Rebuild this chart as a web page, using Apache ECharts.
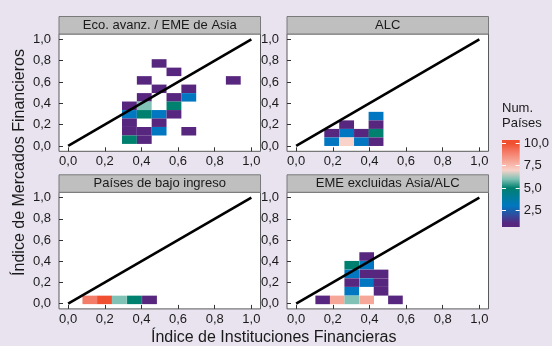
<!DOCTYPE html>
<html><head><meta charset="utf-8">
<script src="https://cdn.jsdelivr.net/npm/echarts@6/dist/echarts.min.js"></script>
<style>html,body{margin:0;padding:0;background:#E8E3EF;} #c{width:552px;height:346px;}</style>
</head><body><div id="c"></div>
<script>
// ---------- data ----------
const panelTitles = ['Eco. avanz. / EME de Asia', 'ALC', 'Países de bajo ingreso', 'EME excluidas Asia/ALC'];
const xTickValues = [0, 0.2, 0.4, 0.6, 0.8, 1.0];
const yTickValues = [0, 0.2, 0.4, 0.6, 0.8, 1.0];
const countTickValues = [2.5, 5, 7.5, 10];
const xTitle = 'Índice de Instituciones Financieras';
const yTitle = 'Índice de Mercados Financieros';
const legendTitle = 'Num.\nPaíses';
// bin sizes per panel [width, height] (index units)
const binSizes = [[0.081, 0.0795], [0.081, 0.08], [0.081, 0.08], [0.08, 0.081]];
// tiles: [x centre, y centre, number of countries]
const tilesAvanz = [
  [0.4965, 0.774, 1],
  [0.5775, 0.695, 1],
  [0.4155, 0.615, 1], [0.9015, 0.615, 1],
  [0.4965, 0.536, 1], [0.6585, 0.536, 1],
  [0.4155, 0.456, 1], [0.5775, 0.456, 1], [0.6585, 0.456, 3],
  [0.3345, 0.377, 1], [0.4155, 0.377, 6], [0.5775, 0.377, 5],
  [0.3345, 0.297, 3], [0.4155, 0.297, 5], [0.4965, 0.297, 3], [0.5775, 0.297, 1],
  [0.3345, 0.218, 1], [0.4965, 0.218, 1],
  [0.3345, 0.138, 1], [0.4155, 0.138, 1], [0.4965, 0.138, 3], [0.6585, 0.138, 1],
  [0.3345, 0.059, 5], [0.4155, 0.059, 1]
];
const tilesALC = [
  [0.436, 0.28, 3],
  [0.2755, 0.20, 1], [0.436, 0.20, 1],
  [0.194, 0.12, 1], [0.2755, 0.12, 3], [0.3565, 0.12, 1], [0.436, 0.12, 5],
  [0.194, 0.04, 3], [0.2755, 0.04, 7], [0.3565, 0.04, 3], [0.436, 0.04, 1]
];
const tilesBajo = [
  [0.1185, 0.035, 9], [0.1985, 0.035, 10], [0.28, 0.035, 6], [0.362, 0.035, 5], [0.444, 0.035, 1]
];
const tilesEME = [
  [0.385, 0.444, 1],
  [0.3035, 0.362, 5], [0.385, 0.362, 3],
  [0.3035, 0.28, 3], [0.385, 0.28, 1], [0.4635, 0.28, 1],
  [0.3035, 0.198, 1], [0.385, 0.198, 3], [0.4635, 0.198, 1],
  [0.3035, 0.116, 3], [0.4635, 0.116, 1],
  [0.145, 0.035, 1], [0.224, 0.035, 8], [0.3035, 0.035, 6], [0.385, 0.035, 8], [0.542, 0.035, 1]
];
const diagonal = [[0, 0], [1, 1]];
// colour for counts 1..10
const countColors = ['#57267E', '#2D4E9F', '#0077C0', '#007C98', '#00806E',
                     '#80C2B5', '#F9D2C9', '#F7A797', '#F47D69', '#F0502F'];
const countMin = 1, countMax = 10;
const barRange = [0.6, 10.4];

// ---------- chart ----------
const FONT = 'Liberation Sans';
const TXT = '#1A1A1A';
const fmt = v => (+v).toFixed(1).replace('.', ',');
const chart = echarts.init(document.getElementById('c'), null, {renderer: 'canvas'});

const panels = [
  {left: 59, top: 34, w: 201.5, h: 117.3},
  {left: 287, top: 34, w: 201.5, h: 117.3},
  {left: 59, top: 192.3, w: 201.5, h: 116.6},
  {left: 287, top: 192.3, w: 201.5, h: 116.6}
];
const tileSets = [tilesAvanz, tilesALC, tilesBajo, tilesEME];

const grids = panels.map(p => ({left: p.left, top: p.top, width: p.w, height: p.h,
  show: true, backgroundColor: '#FFFFFF', borderColor: '#595959', borderWidth: 1}));
grids.push({left: 502, top: 140, width: 19, height: 87, show: false});

const xAxes = panels.map((p, i) => ({type: 'value', gridIndex: i, min: -0.05, max: 1.05,
  splitLine: {show: false}, axisLine: {show: false, onZero: false},
  axisTick: {show: true, inside: true, length: 4, lineStyle: {color: '#333'}, customValues: xTickValues},
  axisLabel: {customValues: xTickValues, formatter: fmt, color: TXT, fontFamily: FONT, fontSize: 13, margin: 4}
}));
xAxes.push({type: 'value', gridIndex: 4, min: 0, max: 1, show: false});

const yAxes = panels.map((p, i) => ({type: 'value', gridIndex: i, min: -0.05, max: 1.05,
  splitLine: {show: false}, axisLine: {show: false, onZero: false},
  axisTick: {show: true, inside: true, length: 4, lineStyle: {color: '#333'}, customValues: yTickValues},
  axisLabel: {customValues: yTickValues, formatter: fmt, color: TXT, fontFamily: FONT, fontSize: 13, margin: 8}
}));
yAxes.push({type: 'value', gridIndex: 4, min: barRange[0], max: barRange[1], position: 'left', z: 10,
  splitLine: {show: false}, axisLine: {show: false, onZero: false}, axisLabel: {show: false},
  axisTick: {show: true, inside: true, length: 4, lineStyle: {color: '#FFFFFF', width: 1}, customValues: countTickValues}});
yAxes.push({type: 'value', gridIndex: 4, min: barRange[0], max: barRange[1], position: 'right', z: 10,
  splitLine: {show: false}, axisLine: {show: false, onZero: false},
  axisTick: {show: true, inside: true, length: 4, lineStyle: {color: '#FFFFFF', width: 1}, customValues: countTickValues},
  axisLabel: {customValues: countTickValues, formatter: fmt, color: TXT, fontFamily: FONT, fontSize: 13, margin: 4}});

const series = [];
tileSets.forEach((data, i) => {
  const bw = binSizes[i][0], bh = binSizes[i][1];
  series.push({type: 'custom', xAxisIndex: i, yAxisIndex: i, data: data, z: 2,
    encode: {x: 0, y: 1},
    renderItem: (params, api) => {
      const x = api.value(0), y = api.value(1);
      const p0 = api.coord([x - bw / 2, y + bh / 2]);
      const p1 = api.coord([x + bw / 2, y - bh / 2]);
      return {type: 'rect', shape: {x: p0[0], y: p0[1], width: p1[0] - p0[0], height: p1[1] - p0[1]},
        style: {fill: api.visual('color')}};
    }});
});
tileSets.forEach((d, i) => {
  series.push({type: 'line', xAxisIndex: i, yAxisIndex: i, data: diagonal, symbol: 'none', z: 5,
    lineStyle: {color: '#000000', width: 2.6}, silent: true});
});
// colour bar
const stops = countColors.map((c, i) => ({offset: (barRange[1] - (countMin + i)) / (barRange[1] - barRange[0]), color: c})).reverse();
stops.unshift({offset: 0, color: countColors[countColors.length - 1]});
stops.push({offset: 1, color: countColors[0]});
series.push({type: 'custom', xAxisIndex: 4, yAxisIndex: 4, data: [[0.5, 5]], z: 1, silent: true,
  renderItem: (params, api) => {
    const p0 = api.coord([0, barRange[1]]);
    const p1 = api.coord([1, barRange[0]]);
    return {type: 'rect', shape: {x: p0[0], y: p0[1], width: p1[0] - p0[0], height: p1[1] - p0[1]},
      style: {fill: new echarts.graphic.LinearGradient(0, 0, 0, 1, stops)}};
  }});

const graphics = [];
panels.forEach((p, i) => {
  graphics.push({type: 'rect', shape: {x: p.left, y: p.top - 17.5, width: p.w, height: 17.5},
    style: {fill: '#BFBFBF', stroke: '#7A7A7A', lineWidth: 1}});
  graphics.push({type: 'text', x: p.left + p.w / 2, y: p.top - 8.5,
    style: {text: panelTitles[i], fill: TXT, font: '13px "' + FONT + '"', textAlign: 'center', textVerticalAlign: 'middle'}});
});
graphics.push({type: 'text', x: 273.7, y: 338,
  style: {text: xTitle, fill: TXT, font: '16px "' + FONT + '"', textAlign: 'center', textVerticalAlign: 'middle'}});
graphics.push({type: 'text', x: 20, y: 162.5, rotation: Math.PI / 2,
  style: {text: yTitle, fill: TXT, font: '16px "' + FONT + '"', textAlign: 'center', textVerticalAlign: 'middle'}});
graphics.push({type: 'text', x: 502, y: 101,
  style: {text: legendTitle, fill: TXT, font: '13px "' + FONT + '"', lineHeight: 15, textAlign: 'left', textVerticalAlign: 'top'}});

chart.setOption({
  animation: false,
  backgroundColor: '#E8E3EF',
  grid: grids,
  xAxis: xAxes,
  yAxis: yAxes,
  visualMap: {show: false, type: 'continuous', min: countMin, max: countMax, dimension: 2,
    seriesIndex: [0, 1, 2, 3], inRange: {color: countColors}},
  series: series,
  graphic: graphics
});
</script></body></html>
